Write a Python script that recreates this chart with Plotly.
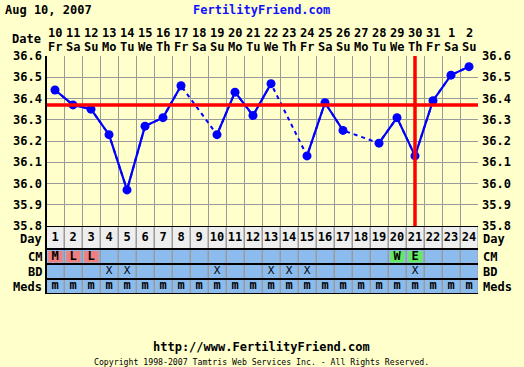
import plotly.graph_objects as go

# ---------------- data ----------------
cycle_days = list(range(1, 25))
date_nums = ["10", "11", "12", "13", "14", "15", "16", "17", "18", "19", "20", "21",
             "22", "23", "24", "25", "26", "27", "28", "29", "30", "31", "1", "2"]
weekdays = ["Fr", "Sa", "Su", "Mo", "Tu", "We", "Th", "Fr", "Sa", "Su", "Mo", "Tu",
            "We", "Th", "Fr", "Sa", "Su", "Mo", "Tu", "We", "Th", "Fr", "Sa", "Su"]
temps = [36.44, 36.37, 36.35, 36.23, 35.97, 36.27, 36.31, 36.46, None, 36.23, 36.43, 36.32,
         36.47, None, 36.13, 36.38, 36.25, None, 36.19, 36.31, 36.13, 36.39, 36.51, 36.55]
coverline = 36.37
ovulation_day = 21
cm_days = [1, 2, 3, 20, 21]
cm_codes = ["M", "L", "L", "W", "E"]
cm_colors = ["#F08080", "#F08080", "#F08080", "#66E866", "#66E866"]
bd_days = [4, 5, 10, 13, 14, 15, 21]
meds = ["m"] * 24
y_ticks = [35.8, 35.9, 36.0, 36.1, 36.2, 36.3, 36.4, 36.5, 36.6]

# ---------------- layout constants ----------------
W, H = 524, 367
L, R, T, B = 46, 46, 56, 73
PH = H - T - B          # 238
PW = W - L - R
TEMP_H = 170
TABLE_H = PH - TEMP_H   # 68
row_edges = [0, 23, 38, 53, 68]
row_names = ["Day", "CM", "BD", "Meds"]
BG = "#FFFFCC"
GRID = "#9A9A9A"
BLUE_ROW = "#8CBCEE"
FONT = "DejaVu Sans Mono"


def ypx(p):
    return 1 - (p - T) / PH


def xpx(p):
    return (p - L) / PW


fig = go.Figure()

# temperature lines: dashed across gaps, solid for consecutive days
valid = [(d, t) for d, t in zip(cycle_days, temps) if t is not None]
fig.add_trace(go.Scatter(x=[v[0] for v in valid], y=[v[1] for v in valid], mode="lines",
                         line=dict(color="#0000FF", width=2, dash="4px,4px"),
                         hoverinfo="skip", showlegend=False))
fig.add_trace(go.Scatter(x=cycle_days, y=temps, mode="lines", connectgaps=False,
                         line=dict(color="#0000FF", width=2.2),
                         hoverinfo="skip", showlegend=False))
fig.add_trace(go.Scatter(x=cycle_days, y=temps, mode="markers",
                         marker=dict(color="#0000FF", size=9),
                         showlegend=False))

# table text
centers = [(row_edges[i] + row_edges[i + 1]) / 2 for i in range(4)]
fig.add_trace(go.Scatter(x=cycle_days, y=[centers[0]] * 24, yaxis="y2", mode="text",
                         text=[str(d) for d in cycle_days],
                         textfont=dict(family=FONT, size=12, color="black", weight="bold"),
                         showlegend=False, hoverinfo="skip"))
fig.add_trace(go.Scatter(x=cm_days, y=[centers[1]] * len(cm_days), yaxis="y2", mode="text",
                         text=cm_codes,
                         textfont=dict(family=FONT, size=12, color="black", weight="bold"),
                         showlegend=False, hoverinfo="skip"))
fig.add_trace(go.Scatter(x=bd_days, y=[centers[2]] * len(bd_days), yaxis="y2", mode="text",
                         text=["X"] * len(bd_days),
                         textfont=dict(family=FONT, size=11, color="black"),
                         showlegend=False, hoverinfo="skip"))
fig.add_trace(go.Scatter(x=cycle_days, y=[centers[3] - 1] * 24, yaxis="y2", mode="text",
                         text=meds,
                         textfont=dict(family=FONT, size=12, color="black", weight="bold"),
                         showlegend=False, hoverinfo="skip"))
# dummy for right axis
fig.add_trace(go.Scatter(x=[None], y=[None], yaxis="y3", showlegend=False))

shapes = []
# table row backgrounds
shapes.append(dict(type="rect", xref="x", yref="y2", x0=0.5, x1=24.5, y0=row_edges[0], y1=row_edges[1],
                   fillcolor="#EEEEEE", line=dict(width=0), layer="below"))
shapes.append(dict(type="rect", xref="x", yref="y2", x0=0.5, x1=24.5, y0=row_edges[1], y1=row_edges[4],
                   fillcolor=BLUE_ROW, line=dict(width=0), layer="below"))
# CM cells
for d, c in zip(cm_days, cm_colors):
    shapes.append(dict(type="rect", xref="x", yref="y2", x0=d - 0.5 + 0.12, x1=d + 0.5 - 0.08,
                       y0=row_edges[1] + 2, y1=row_edges[2] - 1.5,
                       fillcolor=c, line=dict(width=0), layer="below"))
# table vertical lines
for d in cycle_days:
    shapes.append(dict(type="line", xref="x", yref="y2", x0=d + 0.5, x1=d + 0.5,
                       y0=0, y1=TABLE_H, line=dict(color=GRID, width=1), layer="above"))
# table horizontal lines
for e in row_edges:
    shapes.append(dict(type="line", xref="x", yref="y2", x0=0.5, x1=24.5, y0=e, y1=e,
                       line=dict(color="black", width=2), layer="above"))
# coverline and ovulation line
shapes.append(dict(type="line", xref="x", yref="y", x0=0.5, x1=24.5, y0=coverline, y1=coverline,
                   line=dict(color="#FF0000", width=3.5), layer="above"))
shapes.append(dict(type="line", xref="x", yref="y", x0=ovulation_day, x1=ovulation_day,
                   y0=35.8, y1=36.605, line=dict(color="#FF0000", width=3.5), layer="above"))
# left border
shapes.append(dict(type="line", xref="paper", yref="paper", x0=0, x1=0, y0=0, y1=1,
                   line=dict(color="black", width=2), layer="above"))

bold12 = dict(family=FONT, size=12, color="black", weight="bold")
annotations = []
# header
annotations.append(dict(text="Aug 10, 2007", xref="paper", yref="paper", x=xpx(3),
                        y=ypx(10), xanchor="left", yanchor="middle", showarrow=False, font=bold12))
annotations.append(dict(text="FertilityFriend.com", xref="paper", yref="paper", x=xpx(261),
                        y=ypx(10), xanchor="center", yanchor="middle", showarrow=False,
                        font=dict(family=FONT, size=12, color="#1010FF", weight="bold")))
annotations.append(dict(text="Date", xref="paper", yref="paper", x=xpx(43),
                        y=ypx(39), xanchor="right", yanchor="middle", showarrow=False, font=bold12))
for d, n, w in zip(cycle_days, date_nums, weekdays):
    annotations.append(dict(text=n, xref="x", yref="paper", x=d, y=ypx(33), xanchor="center",
                            yanchor="middle", showarrow=False, font=bold12))
    annotations.append(dict(text=w, xref="x", yref="paper", x=d, y=ypx(47), xanchor="center",
                            yanchor="middle", showarrow=False, font=bold12))
# row labels
for name, c in zip(row_names, centers):
    yoff = -1.5 if name == "Day" else 0
    annotations.append(dict(text=name, xref="paper", yref="y2", x=0, y=c - yoff, xanchor="right",
                            xshift=-2, yanchor="middle", showarrow=False, font=bold12))
    annotations.append(dict(text=name, xref="paper", yref="y2", x=1, y=c - yoff, xanchor="left",
                            xshift=3, yanchor="middle", showarrow=False, font=bold12))
# footer
annotations.append(dict(text="http://www.FertilityFriend.com", xref="paper", yref="paper",
                        x=xpx(261), y=ypx(347), xanchor="center", yanchor="middle",
                        showarrow=False, font=bold12))
annotations.append(dict(text="Copyright 1998-2007 Tamtris Web Services Inc. - All Rights Reserved.",
                        xref="paper", yref="paper", x=xpx(261), y=ypx(362),
                        xanchor="center", yanchor="middle", showarrow=False,
                        font=dict(family=FONT, size=8.2, color="black")))

fig.update_layout(
    width=W, height=H, margin=dict(l=L, r=R, t=T, b=B, pad=0),
    paper_bgcolor=BG, plot_bgcolor=BG, showlegend=False,
    xaxis=dict(range=[0.5, 24.5], tickvals=[d + 0.5 for d in cycle_days[:-1]], showticklabels=False,
               ticks="", showgrid=True, gridcolor=GRID, gridwidth=1, zeroline=False, showline=False,
               fixedrange=True),
    yaxis=dict(domain=[TABLE_H / PH, 1], range=[35.8, 36.6], tickvals=y_ticks,
               ticktext=[f"{v:.1f}" for v in y_ticks], tickfont=bold12, ticks="",
               showgrid=True, gridcolor=GRID, gridwidth=1, zeroline=False, showline=False,
               ticklabelstandoff=3),
    yaxis3=dict(domain=[TABLE_H / PH, 1], range=[35.8, 36.6], overlaying="y", side="right",
                anchor="x", tickvals=y_ticks, ticktext=[f"{v:.1f}" for v in y_ticks],
                tickfont=bold12, ticks="", showgrid=False, zeroline=False, showline=False,
                ticklabelstandoff=3),
    yaxis2=dict(domain=[0, TABLE_H / PH], range=[TABLE_H, 0], showticklabels=False, ticks="",
                showgrid=False, zeroline=False, showline=False),
    shapes=shapes, annotations=annotations,
)

fig.write_html("out.html", config={"displayModeBar": False},
               post_script="document.body.style.margin='0';document.body.style.overflow='hidden';")
